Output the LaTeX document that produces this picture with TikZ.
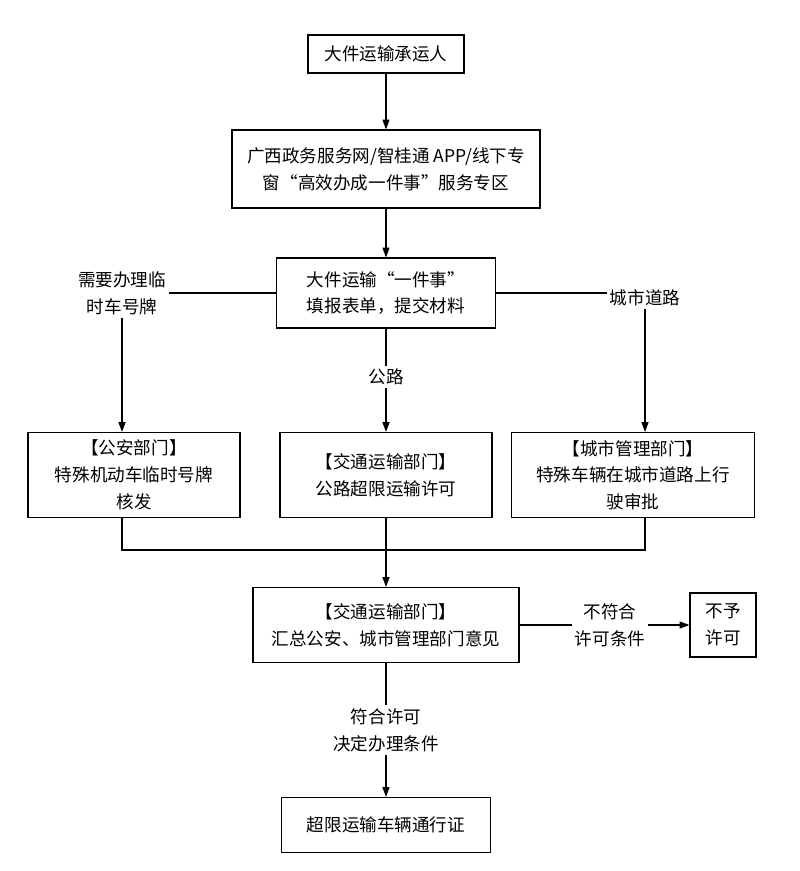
\documentclass[tikz,border=0pt]{standalone}
\usepackage{fontspec}
\setmainfont{Noto Sans CJK SC}
\usetikzlibrary{arrows.meta}
\tikzset{
  box/.style={rectangle, draw, thick, align=center, inner sep=2pt, font=\fontsize{12.5}{19}\selectfont},
  lbl/.style={fill=white, align=center, inner sep=2pt, font=\fontsize{12.5}{19}\selectfont},
  line/.style={draw, thick, -{Triangle[length=7pt,width=5pt]}}
}
\begin{document}
\begin{tikzpicture}[x=0.025cm,y=-0.025cm]
  \useasboundingbox (0,0) rectangle (800,871);
  \node [box, minimum width=156*0.025cm, minimum height=38*0.025cm] (carrier) at (386,54) {大件运输承运人};
  \node [box, minimum width=308*0.025cm, minimum height=78*0.025cm] (portal) at (386,169)
     {广西政务服务网/智桂通 APP/线下专\\窗“高效办成一件事”服务专区};
  \node [box, minimum width=219*0.025cm, minimum height=70*0.025cm] (apply) at (386,293)
     {大件运输“一件事”\\填报表单，提交材料};
  \node [box, minimum width=212*0.025cm, minimum height=85*0.025cm] (police) at (134,475)
     {【公安部门】\\特殊机动车临时号牌\\核发};
  \node [box, minimum width=212*0.025cm, minimum height=85*0.025cm] (traffic) at (386,475)
     {【交通运输部门】\\公路超限运输许可};
  \node [box, minimum width=243*0.025cm, minimum height=85*0.025cm] (city) at (633,475)
     {【城市管理部门】\\特殊车辆在城市道路上行\\驶审批};
  \node [box, minimum width=266*0.025cm, minimum height=75*0.025cm] (summary) at (386,625)
     {【交通运输部门】\\汇总公安、城市管理部门意见};
  \node [box, minimum width=66*0.025cm, minimum height=64*0.025cm] (deny) at (723,625)
     {不予\\许可};
  \node [box, minimum width=209*0.025cm, minimum height=55*0.025cm] (pass) at (386,825)
     {超限运输车辆通行证};

  \node [lbl] (needplate) at (122,293) {需要办理临\\时车号牌};
  \node [lbl] (cityroad) at (645,298) {城市道路};
  \node [lbl] (road) at (386,377) {公路};
  \node [lbl] (nofit) at (610,625) {不符合\\许可条件};
  \node [lbl] (fit) at (386,730) {符合许可\\决定办理条件};
  \coordinate (merge) at (386,550);

  \path [line] (carrier) -- (portal);
  \path [line] (portal) -- (apply);
  \draw [thick] (apply.west) -- (needplate.east |- apply.west);
  \path [line] (needplate) -- (needplate |- police.north);
  \draw [thick] (apply.east) -- (cityroad.west |- apply.east);
  \path [line] (cityroad) -- (cityroad |- city.north);
  \draw [thick] (apply) -- (road);
  \path [line] (road) -- (traffic);
  \draw [thick] (police.south -| needplate) |- (merge) -| (city.south -| cityroad);
  \path [line] (traffic) -- (summary);
  \draw [thick] (summary) -- (nofit);
  \path [line] (nofit) -- (deny);
  \draw [thick] (summary) -- (fit);
  \path [line] (fit) -- (pass);
\end{tikzpicture}
\end{document}
